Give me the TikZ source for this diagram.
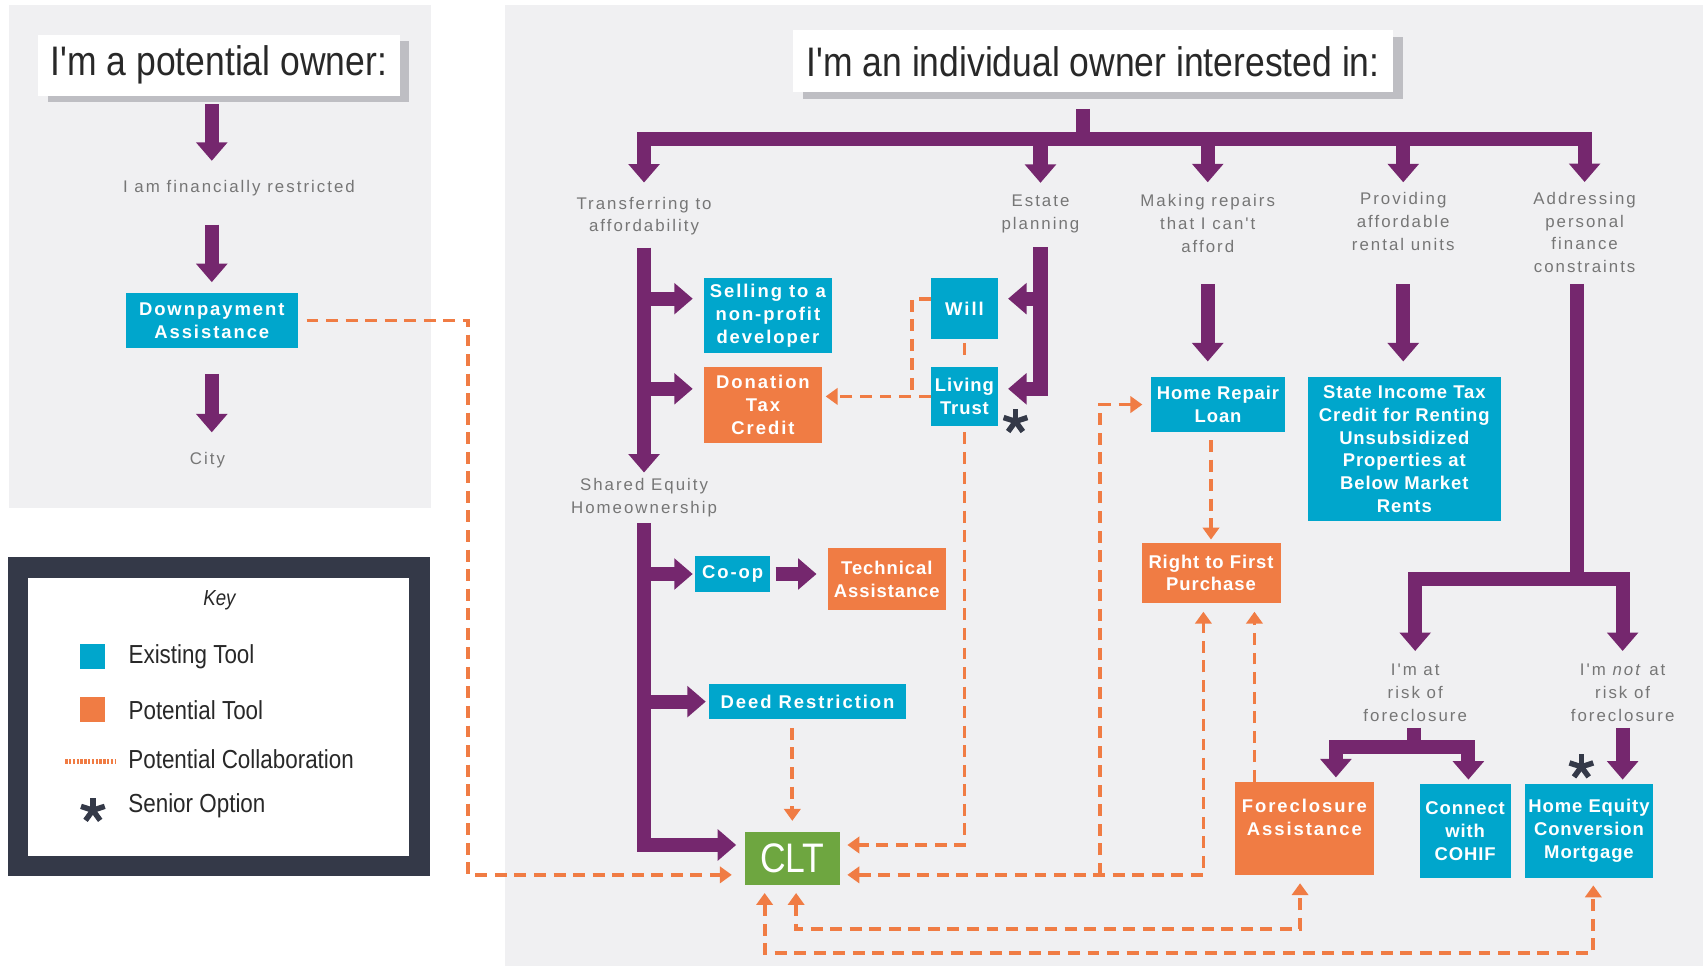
\documentclass[tikz,border=0pt]{standalone}
\usepackage{fontspec}
\setmainfont{Liberation Sans}
\newfontfamily\titlefont[FakeStretch=0.86]{Liberation Sans}
\newfontfamily\boxfont[LetterSpace=5]{Liberation Sans}
\newfontfamily\wideboxfont[LetterSpace=10.5]{Liberation Sans}
\newfontfamily\notefont[LetterSpace=12]{Liberation Sans}
\usepackage{tikz}
\usetikzlibrary{arrows.meta}
\usetikzlibrary{positioning}
\usetikzlibrary{calc}
\usetikzlibrary{shadows}
\definecolor{plum}{RGB}{117,39,110}
\definecolor{toolblue}{RGB}{0,166,204}
\definecolor{toolorange}{RGB}{240,124,68}
\definecolor{cltgreen}{RGB}{110,166,64}
\definecolor{panelgray}{RGB}{240,240,242}
\definecolor{notegray}{RGB}{118,118,118}
\definecolor{keynavy}{RGB}{52,57,72}
\definecolor{shade}{RGB}{190,190,195}
\definecolor{inktext}{RGB}{40,40,40}
\tikzstyle{pipe}=[-{Triangle[width=28pt,length=17pt]},line width=13pt,draw=plum]
\tikzstyle{pipeline}=[line width=13pt,draw=plum]
\tikzstyle{collab}=[->,>={Triangle[width=15pt,length=11pt]},line width=3.5pt,draw=toolorange,dash pattern=on 11pt off 7pt]
\tikzset{seniorstar/.pic={\foreach \a in {18,90,162,234,306} \draw[keynavy,line width=5pt] (0,0) -- (\a:11.5pt);}}

\begin{document}
\begin{tikzpicture}[x=1pt,y=-1pt]
    % boites des outils
    \tikzstyle{tool}=[inner sep=0pt,align=center,text=white,font=\boxfont\fontsize{17}{21}\selectfont\bfseries]
    \tikzstyle{widetool}=[tool,font=\wideboxfont\fontsize{17}{21}\selectfont\bfseries]
    \tikzstyle{existing}=[fill=toolblue]
    \tikzstyle{potential}=[fill=toolorange]
    \tikzstyle{note}=[inner sep=0pt,align=center,text=notegray,font=\notefont\fontsize{15.5}{21}\selectfont]
    \tikzstyle{heading}=[fill=white,inner sep=0pt,text=inktext,font=\titlefont\fontsize{38}{44}\selectfont,general shadow={fill=shade,shadow xshift=9pt,shadow yshift=-6pt}]
    \tikzstyle{keytext}=[inner sep=0pt,anchor=west,text=inktext,font=\titlefont\fontsize{24}{28}\selectfont]

    \useasboundingbox (0,0) rectangle (1568,889);
    \fill[panelgray] (8,5) rectangle (397,468);
    \fill[panelgray] (465,5) rectangle (1568,889);

    % proprietaire potentiel
    \node[heading,minimum width=333pt,minimum height=56pt] (owner) at (201.5,60) {I'm a potential owner:};
    \node[note] (restr) at (220,173.5) {I am financially restricted};
    \node[widetool,existing,minimum width=158pt,minimum height=50pt] (dpa) at (195,295) {Downpayment\\Assistance};
    \node[note] (city) at (191,423.5) {City};

    % legende
    \draw[keynavy,line width=19pt,fill=white] (16.5,522.5) rectangle (386.5,797.5);
    \node[inner sep=0pt,text=inktext,font=\titlefont\itshape\fontsize{20}{24}\selectfont] (keytitle) at (202,553) {Key};
    \node[fill=toolblue,minimum size=23pt,inner sep=0pt] (keyexist) at (85.5,604.5) {};
    \node[keytext,right=21pt of keyexist] (keyexisttext) {Existing Tool};
    \node[fill=toolorange,minimum size=23pt,inner sep=0pt] (keypot) at (85.5,653.5) {};
    \node[keytext,right=21pt of keypot] (keypottext) {Potential Tool};
    \coordinate (keydashA) at (60,701);
    \coordinate (keydashB) at (107,701);
    \draw[toolorange,line width=5pt,dash pattern=on 2.2pt off 1.3pt] (keydashA) -- (keydashB);
    \node[keytext] (keycollab) at (118,699) {Potential Collaboration};
    \pic (keystar) at (85.5,746) {seniorstar};
    \node[keytext] (keystartext) at (118,742) {Senior Option};

    % proprietaire individuel
    \node[heading,minimum width=553pt,minimum height=57pt] (individual) at (1006.5,56.5) {I'm an individual owner interested in:};
    \node[note] (transfer) at (593,199) {Transferring to\\affordability};
    \node[note] (estate) at (958,197) {Estate\\planning};
    \node[note] (repairs) at (1112,205.75) {Making repairs\\that I can't\\afford};
    \node[note] (rental) at (1292,203.75) {Providing\\affordable\\rental units};
    \node[note] (addr) at (1459,214) {Addressing\\personal\\finance\\constraints};
    \node[note] (shared) at (593,458) {Shared Equity\\Homeownership};
    \node[note] (atrisk) at (1303,638) {I'm at\\risk of\\foreclosure};
    \node[note] (notrisk) at (1494,638) {I'm \textit{not} at\\risk of\\foreclosure};

    \node[widetool,existing,minimum width=118pt,minimum height=69pt] (sell) at (707,290.5) {Selling to a\\non-profit\\developer};
    \node[widetool,potential,minimum width=109pt,minimum height=70pt] (dtc) at (702.5,373) {Donation\\Tax\\Credit};
    \node[widetool,existing,minimum width=62pt,minimum height=56pt] (will) at (888,284) {Will};
    \node[tool,existing,minimum width=62pt,minimum height=54pt] (trust) at (888,365) {Living\\Trust};
    \pic (senior1) at (935,388) {seniorstar};
    \node[widetool,existing,minimum width=69pt,minimum height=33pt] (coop) at (674.5,528.5) {Co-op};
    \node[tool,potential,minimum width=109pt,minimum height=57pt] (ta) at (816.5,533.5) {Technical\\Assistance};
    \node[widetool,existing,minimum width=181pt,minimum height=32pt] (deed) at (743.5,646) {Deed Restriction};
    \node[fill=cltgreen,inner sep=0pt,text=white,font=\titlefont\fontsize{38}{40}\selectfont,minimum width=87pt,minimum height=49pt] (clt) at (729.5,790.5) {CLT};
    \node[tool,existing,minimum width=123pt,minimum height=51pt] (hrl) at (1121.5,372.5) {Home Repair\\Loan};
    \node[tool,potential,minimum width=128pt,minimum height=55pt] (rtfp) at (1115,527.5) {Right to First\\Purchase};
    \node[tool,existing,minimum width=178pt,minimum height=133pt] (sitc) at (1293,413.5) {State Income Tax\\Credit for Renting\\Unsubsidized\\Properties at\\Below Market\\Rents};
    \node[widetool,potential,minimum width=128pt,minimum height=86pt] (fa) at (1201,763) {Foreclosure\\Assistance\\\mbox{}};
    \node[tool,existing,minimum width=84pt,minimum height=86pt] (cohif) at (1349,765) {Connect\\with\\COHIF};
    \node[tool,existing,minimum width=118pt,minimum height=86pt] (hecm) at (1463,765) {Home Equity\\Conversion\\Mortgage};
    \pic (senior2) at (1456,706) {seniorstar};

    % fleches violettes
    \draw[pipe,shorten <=8pt,shorten >=18pt] (owner.south -| dpa) -- (restr.north -| dpa);
    \draw[pipe,shorten <=26pt,shorten >=10pt] (restr.south -| dpa) -- (dpa.north);
    \draw[pipe,shorten <=24pt,shorten >=18pt] (dpa.south) -- (city.north -| dpa);

    \coordinate (hub) at (997,128);
    \draw[pipeline,shorten <=15pt] (individual.south -| hub) -- (hub);
    \draw[pipe,shorten >=13pt] (hub) -| (transfer.north);
    \draw[pipe,shorten >=11pt] (hub) -| (estate.north);
    \draw[pipe,shorten >=11pt] (hub) -| (repairs.north);
    \draw[pipe,shorten >=9pt] (hub) -| (rental.north);
    \draw[pipe,shorten >=9pt] (hub) -| (addr.north);

    \draw[pipe,shorten <=11pt,shorten >=5pt] (transfer.south) -- (shared.north);
    \draw[pipe,shorten >=10pt] ([yshift=15.5pt]sell.west -| transfer.south) -- ([yshift=15.5pt]sell.west);
    \draw[pipe,shorten >=10pt] ([yshift=15pt]dtc.west -| transfer.south) -- ([yshift=15pt]dtc.west);

    \draw[pipe,shorten <=6pt,shorten >=8pt] (shared.south) |- ([yshift=12.5pt]clt.west);
    \draw[pipe,shorten >=2pt] (coop.west -| shared.south) -- (coop.west);
    \draw[pipe,shorten >=3pt] (deed.west -| shared.south) -- (deed.west);
    \draw[pipe,shorten <=5pt,shorten >=10pt] (coop.east) -- (coop.east -| ta.west);

    \draw[pipe,shorten <=13pt,shorten >=9pt] (estate.south) |- ([yshift=7pt]trust.east);
    \draw[pipe,shorten >=9pt] ([yshift=9pt]will.east -| estate.south) -- ([yshift=9pt]will.east);

    \draw[pipe,shorten <=29pt,shorten >=14pt] (repairs.south) -- (repairs.south |- hrl.north);
    \draw[pipe,shorten <=31pt,shorten >=14pt] (rental.south) -- (rental.south |- sitc.north);

    \coordinate (split) at (1452,533);
    \draw[pipeline,shorten <=10pt] (addr.south -| split) -- (split);
    \draw[pipe,shorten >=12pt] (split) -| (atrisk.north);
    \draw[pipe,shorten >=12pt] (split) -| (notrisk.north);

    \coordinate (split2) at (1302,688);
    \draw[pipeline,shorten <=5.5pt] (atrisk.south -| split2) -- (split2);
    \draw[pipe,shorten >=4pt] (split2) -| ([xshift=29pt]fa.north);
    \draw[pipe,shorten >=4pt] (split2) -| ([xshift=3pt]cohif.north);
    \draw[pipe,shorten <=5.5pt,shorten >=4pt] (notrisk.south) -- (notrisk.south |- hecm.north);

    % collaborations
    \draw[collab,shorten <=8pt,shorten >=12pt] (dpa.east) -- ++(157,0) |- ([yshift=-15pt]clt.west);
    \draw[collab,shorten <=8pt,shorten >=10pt] (clt.north |- deed.south) -- (clt.north);
    \draw[collab,shorten <=6pt,shorten >=7pt] (trust.south) |- ([yshift=12.5pt]clt.east);
    \draw[collab,-,shorten <=4pt,shorten >=4pt] (will.south) -- (trust.north);
    \draw[collab,shorten >=3pt] (trust.west) -- (trust.west -| dtc.east);
    \draw[collab,-] ([yshift=9pt]will.west) -| ($(trust.west)+(-17,0)$);
    \draw[collab,<->,shorten <=7pt,shorten >=8pt] ([yshift=-15pt]clt.east) -| ([xshift=-7pt]rtfp.south);
    \coordinate (fork) at (1013,805.5);
    \draw[collab,shorten >=8pt] (fork) |- (hrl.west);
    \draw[collab,shorten <=7pt,shorten >=3pt] (rtfp.north |- hrl.south) -- (rtfp.north);
    \draw[collab,shorten >=8pt] ([xshift=-46pt]fa.north) -- ([xshift=40pt]rtfp.south);
    \draw[collab,<->,shorten <=7pt,shorten >=7pt] ([xshift=3.5pt]clt.south) -- ++(0,40) -| ([xshift=-4pt]fa.south);
    \draw[collab,<->,shorten <=7pt,shorten >=7pt] ([xshift=-25.5pt]clt.south) -- ++(0,62) -| ([xshift=4pt]hecm.south);
\end{tikzpicture}
\end{document}
